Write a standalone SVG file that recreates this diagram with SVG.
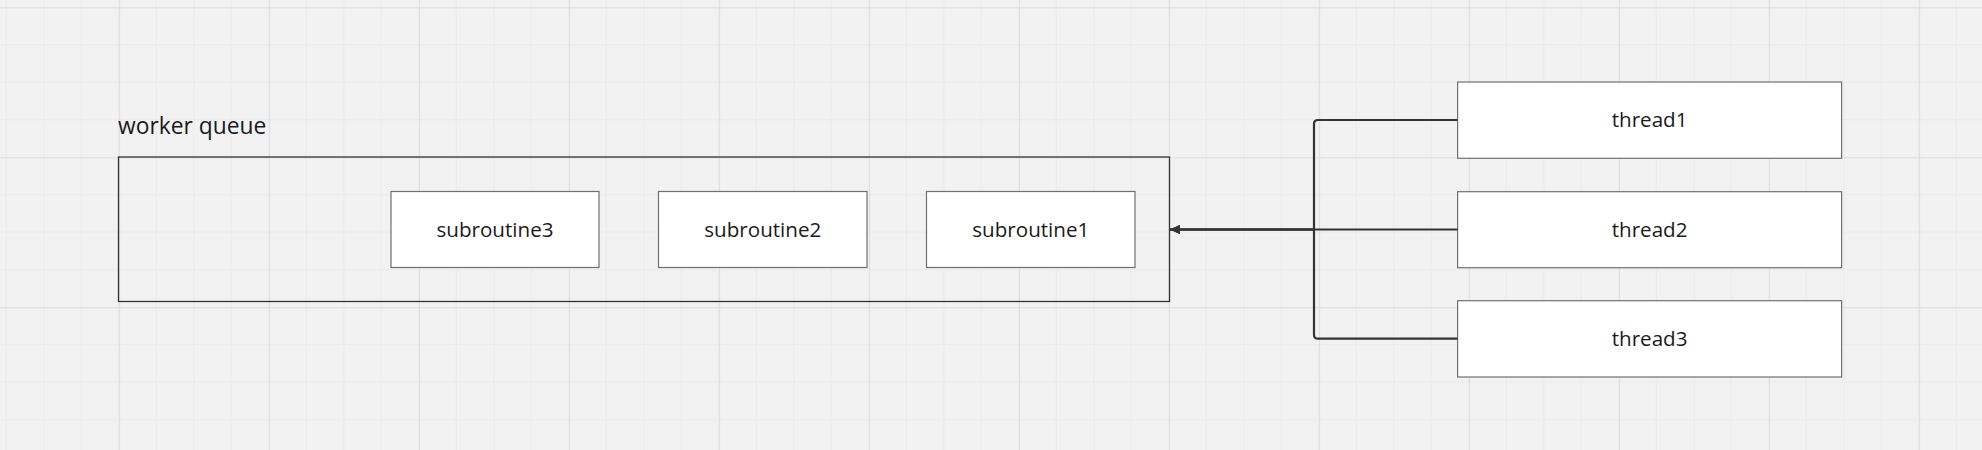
<svg xmlns="http://www.w3.org/2000/svg" width="1982" height="450" viewBox="0 0 1982 450">
  <style>
    .lbl { font-family: "Open Sans", "Noto Sans", "Liberation Sans", sans-serif; fill: #1a1a1a; }
    .node { fill: #ffffff; stroke: #707070; stroke-width: 1.2; }
    .frame { fill: none; stroke: #333333; stroke-width: 1.3; }
    .conn { fill: none; stroke: #333333; stroke-width: 2.2; }
  </style>
  <defs>
    <pattern id="grid" patternUnits="userSpaceOnUse" x="118.75" y="7.3" width="150" height="150">
      <rect width="150" height="150" fill="#f2f2f2"/>
      <g stroke="#eaeaea" stroke-width="1">
        <line x1="37.5" y1="0" x2="37.5" y2="150"/>
        <line x1="75" y1="0" x2="75" y2="150"/>
        <line x1="112.5" y1="0" x2="112.5" y2="150"/>
        <line x1="0" y1="37.5" x2="150" y2="37.5"/>
        <line x1="0" y1="75" x2="150" y2="75"/>
        <line x1="0" y1="112.5" x2="150" y2="112.5"/>
      </g>
      <g stroke="#dcdcdc" stroke-width="2.2">
        <line x1="0" y1="0" x2="0" y2="150"/>
        <line x1="0" y1="0" x2="150" y2="0"/>
      </g>
    </pattern>
    <marker id="arrow" viewBox="0 0 10 10" refX="10" refY="5" markerWidth="10" markerHeight="10" markerUnits="userSpaceOnUse" orient="auto">
      <path d="M0,0.5 L10,5 L0,9.5 Z" fill="#333333"/>
    </marker>
  </defs>
  <rect x="0" y="0" width="1982" height="450" fill="url(#grid)"/>

  <g id="worker-queue">
    <rect class="frame" x="118.5" y="157" width="1051" height="144.5"/>
    <text class="lbl" x="118" y="134" font-size="22.8">worker queue</text>
  </g>

  <g id="subroutine3">
    <rect class="node" x="391" y="191.5" width="208" height="76"/>
    <text class="lbl" x="495" y="236.8" font-size="20.6" text-anchor="middle">subroutine3</text>
  </g>
  <g id="subroutine2">
    <rect class="node" x="658.5" y="191.5" width="208.5" height="76"/>
    <text class="lbl" x="762.8" y="236.8" font-size="20.6" text-anchor="middle">subroutine2</text>
  </g>
  <g id="subroutine1">
    <rect class="node" x="926.5" y="191.5" width="208.5" height="76"/>
    <text class="lbl" x="1030.8" y="236.8" font-size="20.6" text-anchor="middle">subroutine1</text>
  </g>

  <g id="thread1">
    <rect class="node" x="1457.6" y="82" width="384" height="76.3"/>
    <text class="lbl" x="1649.6" y="127.3" font-size="20.6" text-anchor="middle">thread1</text>
  </g>
  <g id="thread2">
    <rect class="node" x="1457.6" y="191.7" width="384" height="76"/>
    <text class="lbl" x="1649.6" y="236.8" font-size="20.6" text-anchor="middle">thread2</text>
  </g>
  <g id="thread3">
    <rect class="node" x="1457.6" y="300.7" width="384" height="76.3"/>
    <text class="lbl" x="1649.6" y="345.8" font-size="20.6" text-anchor="middle">thread3</text>
  </g>

  <g id="connectors">
    <path class="conn" d="M1457.6,120 H1318 Q1314,120 1314,124 V229.5 H1170" marker-end="url(#arrow)"/>
    <path class="conn" d="M1457.6,229.5 H1170" marker-end="url(#arrow)"/>
    <path class="conn" d="M1457.6,338.7 H1318 Q1314,338.7 1314,334.7 V229.5 H1170" marker-end="url(#arrow)"/>
  </g>
</svg>
